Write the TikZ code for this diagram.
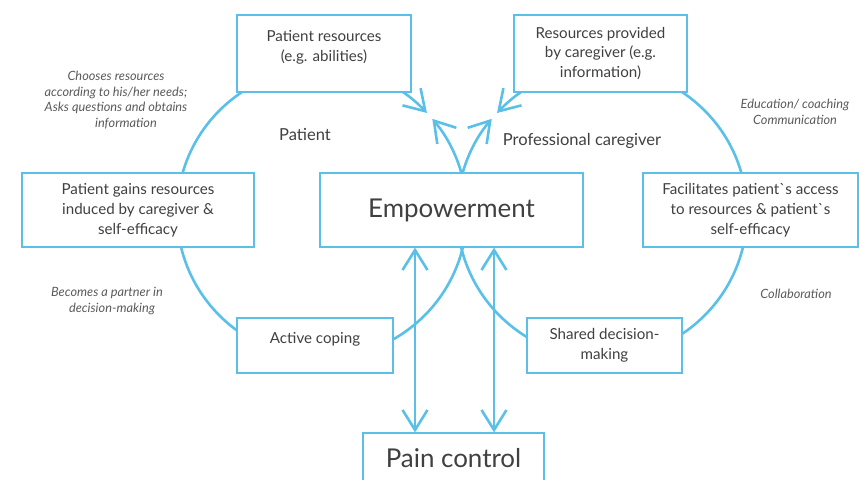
\documentclass[tikz,border=0pt]{standalone}
\usepackage{fontspec}
\setmainfont{Lato}
\usetikzlibrary{arrows.meta,backgrounds}

\begin{document}
\begin{tikzpicture}[x=1bp, y=1bp,
    box/.style={draw=diag_blue, line width=1.2bp, fill=white, align=center, inner sep=0pt,
        text=txt_gray, font=\fontsize{15.2}{20}\selectfont},
    bigbox/.style={box, font=\fontsize{26}{30}\selectfont},
    lbl/.style={text=txt_gray, font=\fontsize{16.6}{20}\selectfont},
    note/.style={text=note_gray, align=center, font=\fontsize{12.8}{15.5}\selectfont\itshape},
    flow/.style={draw=diag_blue, line width=2.6bp},
    vtip/.tip={Straight Barb[length=20bp, width=25bp]}]
    \definecolor{diag_blue}{HTML}{5BC0E8}
    \definecolor{txt_gray}{HTML}{404040}
    \definecolor{note_gray}{HTML}{5A5A5A}
    %\draw[help lines, step=50] (0,-480) grid (859,0);
    \useasboundingbox (0,0) rectangle (859,-480);

    % boxes
    \node[box, minimum width=174bp, minimum height=77bp] (patres) at (324,-53.5)
        {Patient resources\\(e.g. abilities)\\[-10bp]\strut};
    \node[box, minimum width=173bp, minimum height=77bp] (provres) at (600.5,-53.5)
        {Resources provided\\by caregiver (e.g.\\information)};
    \node[box, minimum width=232bp, minimum height=74bp] (gains) at (138,-210)
        {Patient gains resources\\induced by caregiver \&\\self-efficacy};
    \node[bigbox, minimum width=263bp, minimum height=74bp] (emp) at (451.5,-210)
        {Empowerment};
    \node[box, minimum width=215bp, minimum height=74bp] (facil) at (750.5,-210)
        {Facilitates patient\textasciigrave s access\\to resources \& patient\textasciigrave s\\self-efficacy};
    \node[box, minimum width=156bp, minimum height=55bp] (coping) at (315,-345.5)
        {Active coping\\[-10bp]\strut};
    \node[box, minimum width=155bp, minimum height=55bp] (shared) at (604.5,-345.5)
        {Shared decision-\\making};
    \node[bigbox, minimum width=181bp, minimum height=50bp] (pain) at (453.5,-458)
        {Pain control};

    % labels
    \node[lbl] (patlbl) at (305,-135) {Patient};
    \node[lbl] (proflbl) at (582,-141) {Professional caregiver};
    \node[note] (choose) at (116,-100)
        {Chooses resources\\according to his/her needs;\\Asks questions and obtains\\\hspace*{20bp}information};
    \node[note] (partner) at (107,-301) {Becomes a partner in\\\hspace*{10bp}decision-making};
    \node[note] (educ) at (795,-112) {Education/ coaching\\Communication};
    \node[note] (collab) at (796,-294) {Collaboration};

    % the two cycles
    \coordinate (lc) at (322,-213);
    \coordinate (rc) at (602,-213);
    \begin{scope}[on background layer]
        \draw[flow, -vtip] (lc) ++(8:145bp) arc[start angle=8, end angle=40.5, radius=145bp];
        \draw[flow, vtip-] (lc) ++(43.6:145bp) arc[start angle=43.6, end angle=370, radius=145bp];
        \draw[flow, -vtip] (rc) ++(172:145bp) arc[start angle=172, end angle=139.5, radius=145bp];
        \draw[flow, vtip-] (rc) ++(136.4:145bp) arc[start angle=136.4, end angle=-190, radius=145bp];
    \end{scope}

    % empowerment <-> pain control
    \draw[flow, vtip-vtip] ([xshift=-36.5bp]emp.south) -- ([xshift=-36.5bp]emp.south |- pain.north);
    \draw[flow, vtip-vtip] ([xshift=42.5bp]emp.south) -- ([xshift=42.5bp]emp.south |- pain.north);
\end{tikzpicture}
\end{document}
